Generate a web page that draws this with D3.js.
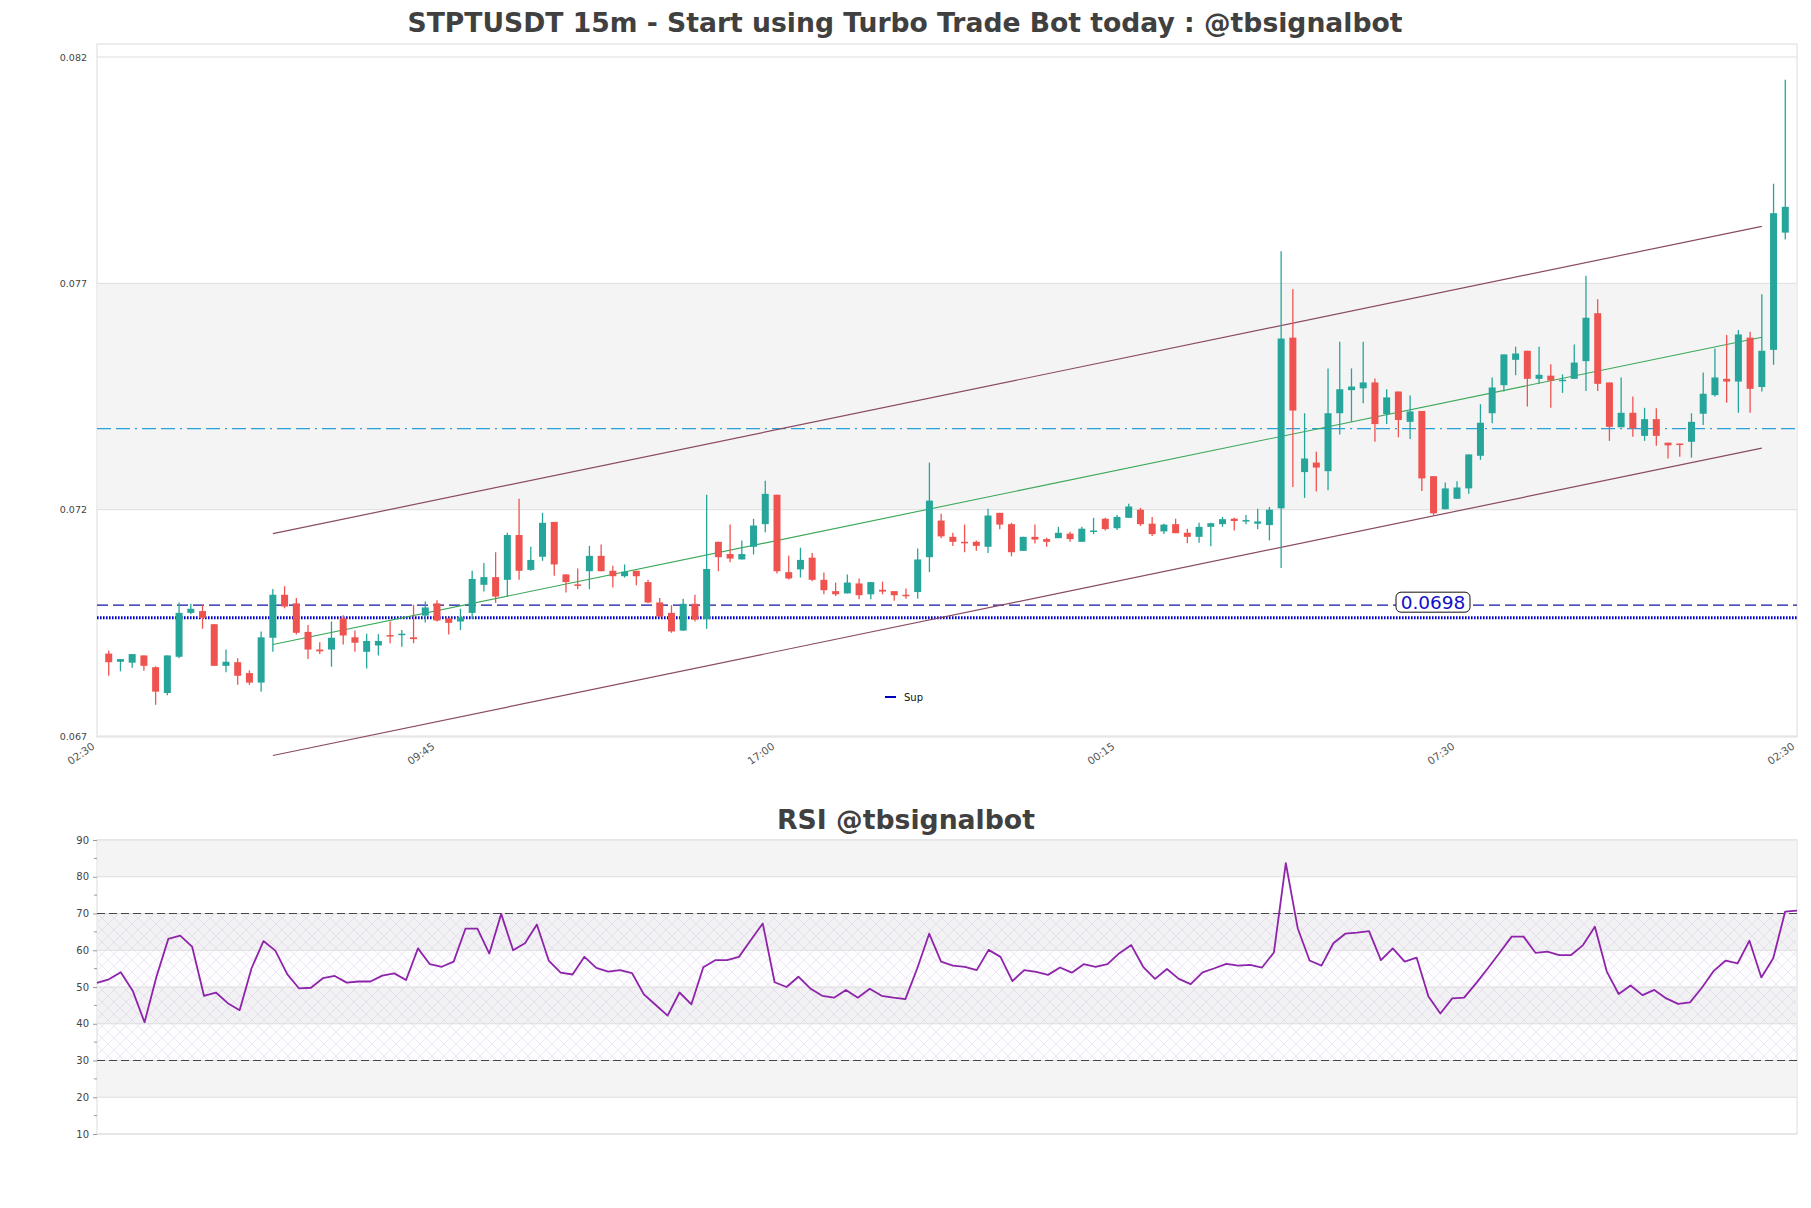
<!DOCTYPE html>
<html><head><meta charset="utf-8">
<script src="https://cdn.jsdelivr.net/npm/d3@7"></script>
<style>body{margin:0;background:#fff}svg{display:block}</style>
</head><body>
<script>
// ---------- DATA ----------
const title = "STPTUSDT 15m - Start using Turbo Trade Bot today : @tbsignalbot";
const rsiTitle = "RSI @tbsignalbot";
const xTickLabels = ["02:30","09:45","17:00","00:15","07:30","02:30"];
const xTickIdx = [-1, 28, 57, 86, 115, 144];
const yTicks = [0.082, 0.077, 0.072, 0.067];
const rsiTicks = [10,20,30,40,50,60,70,80,90];

const open = [0.06882,0.06864,0.06862,0.06878,0.06852,0.06795,0.06875,0.06972,0.06976,0.06947,
0.06855,0.06863,0.06839,0.06818,0.06917,0.07012,0.06993,0.06930,0.06891,0.06891,
0.06960,0.06918,0.06886,0.06900,0.06923,0.06924,0.06918,0.06966,0.06993,0.06960,
0.06953,0.06972,0.07034,0.07051,0.07045,0.07144,0.07067,0.07096,0.07173,0.07057,
0.07035,0.07064,0.07098,0.07065,0.07053,0.07065,0.07040,0.06995,0.06972,0.06933,
0.06992,0.06958,0.07129,0.07102,0.07090,0.07118,0.07168,0.07233,0.07062,0.07068,
0.07094,0.07045,0.07020,0.07015,0.07037,0.07013,0.07023,0.07020,0.07012,0.07018,
0.07095,0.07176,0.07140,0.07129,0.07129,0.07118,0.07193,0.07168,0.07109,0.07140,
0.07135,0.07137,0.07147,0.07129,0.07151,0.07180,0.07159,0.07182,0.07200,0.07169,
0.07152,0.07168,0.07149,0.07140,0.07162,0.07168,0.07180,0.07175,0.07169,0.07166,
0.07203,0.07580,0.07283,0.07304,0.07285,0.07413,0.07464,0.07468,0.07481,0.07411,
0.07461,0.07394,0.07418,0.07274,0.07201,0.07224,0.07247,0.07319,0.07413,0.07475,
0.07531,0.07551,0.07489,0.07496,0.07485,0.07489,0.07528,0.07634,0.07481,0.07382,
0.07414,0.07363,0.07400,0.07348,0.07346,0.07350,0.07412,0.07453,0.07489,0.07483,
0.07580,0.07471,0.07553,0.07812];
const high = [0.06889,0.06870,0.06881,0.06878,0.06854,0.06878,0.06995,0.06992,0.06989,0.06947,
0.06891,0.06872,0.06845,0.06931,0.07025,0.07031,0.07005,0.06945,0.06907,0.06953,
0.06967,0.06933,0.06926,0.06925,0.06953,0.06934,0.06990,0.06997,0.07000,0.06960,
0.06981,0.07065,0.07082,0.07106,0.07149,0.07224,0.07118,0.07193,0.07173,0.07057,
0.07070,0.07120,0.07123,0.07076,0.07079,0.07065,0.07045,0.07005,0.06989,0.07003,
0.07012,0.07233,0.07129,0.07167,0.07132,0.07180,0.07264,0.07233,0.07098,0.07116,
0.07104,0.07061,0.07039,0.07057,0.07048,0.07040,0.07041,0.07020,0.07026,0.07114,
0.07304,0.07191,0.07149,0.07167,0.07132,0.07202,0.07193,0.07171,0.07140,0.07167,
0.07138,0.07162,0.07151,0.07162,0.07182,0.07182,0.07188,0.07213,0.07204,0.07184,
0.07169,0.07180,0.07158,0.07171,0.07171,0.07184,0.07182,0.07188,0.07202,0.07206,
0.07771,0.07687,0.07413,0.07328,0.07512,0.07571,0.07512,0.07571,0.07490,0.07466,
0.07461,0.07452,0.07418,0.07274,0.07260,0.07263,0.07322,0.07433,0.07492,0.07543,
0.07560,0.07551,0.07560,0.07521,0.07499,0.07565,0.07717,0.07665,0.07481,0.07492,
0.07450,0.07425,0.07424,0.07348,0.07346,0.07413,0.07503,0.07556,0.07586,0.07597,
0.07593,0.07676,0.07920,0.08150];
const low = [0.06833,0.06843,0.06851,0.06844,0.06769,0.06790,0.06872,0.06969,0.06937,0.06855,
0.06841,0.06813,0.06813,0.06798,0.06886,0.06982,0.06924,0.06870,0.06881,0.06853,
0.06902,0.06886,0.06849,0.06878,0.06905,0.06897,0.06905,0.06951,0.06953,0.06924,
0.06934,0.06959,0.07019,0.06994,0.07009,0.07045,0.07065,0.07087,0.07054,0.07017,
0.07024,0.07024,0.07064,0.07028,0.07050,0.07033,0.06993,0.06961,0.06928,0.06932,
0.06953,0.06937,0.07064,0.07084,0.07090,0.07101,0.07150,0.07059,0.07046,0.07050,
0.07042,0.07013,0.07009,0.07015,0.07002,0.07002,0.07013,0.06999,0.07003,0.07003,
0.07062,0.07137,0.07120,0.07106,0.07109,0.07104,0.07157,0.07097,0.07109,0.07125,
0.07118,0.07137,0.07129,0.07129,0.07146,0.07154,0.07155,0.07182,0.07164,0.07142,
0.07146,0.07148,0.07126,0.07127,0.07119,0.07162,0.07154,0.07168,0.07157,0.07132,
0.07071,0.07250,0.07226,0.07240,0.07243,0.07366,0.07394,0.07435,0.07350,0.07389,
0.07360,0.07356,0.07241,0.07187,0.07201,0.07224,0.07235,0.07310,0.07391,0.07461,
0.07497,0.07428,0.07478,0.07425,0.07458,0.07489,0.07462,0.07462,0.07352,0.07382,
0.07361,0.07352,0.07341,0.07313,0.07317,0.07315,0.07387,0.07450,0.07436,0.07414,
0.07414,0.07461,0.07520,0.07797];
const close = [0.06863,0.06870,0.06881,0.06855,0.06798,0.06878,0.06972,0.06981,0.06961,0.06855,
0.06864,0.06833,0.06818,0.06918,0.07012,0.06986,0.06928,0.06891,0.06887,0.06917,
0.06922,0.06906,0.06910,0.06910,0.06921,0.06926,0.06914,0.06984,0.06955,0.06950,
0.06962,0.07047,0.07051,0.07008,0.07144,0.07065,0.07089,0.07171,0.07079,0.07040,
0.07034,0.07098,0.07064,0.07053,0.07063,0.07053,0.06995,0.06964,0.06931,0.06992,
0.06957,0.07069,0.07095,0.07092,0.07102,0.07165,0.07235,0.07064,0.07048,0.07089,
0.07045,0.07022,0.07013,0.07039,0.07011,0.07040,0.07019,0.07011,0.07009,0.07090,
0.07220,0.07141,0.07129,0.07126,0.07120,0.07187,0.07167,0.07106,0.07140,0.07134,
0.07129,0.07149,0.07135,0.07158,0.07154,0.07157,0.07184,0.07207,0.07168,0.07146,
0.07167,0.07148,0.07140,0.07162,0.07170,0.07179,0.07175,0.07177,0.07174,0.07200,
0.07578,0.07419,0.07313,0.07293,0.07413,0.07466,0.07472,0.07481,0.07389,0.07448,
0.07398,0.07417,0.07269,0.07192,0.07247,0.07249,0.07322,0.07392,0.07470,0.07543,
0.07545,0.07489,0.07498,0.07485,0.07487,0.07525,0.07624,0.07478,0.07383,0.07414,
0.07380,0.07400,0.07363,0.07342,0.07343,0.07394,0.07456,0.07492,0.07483,0.07587,
0.07467,0.07551,0.07855,0.07869];
const rsi = [51.1,52.1,54.0,49.0,40.4,52.8,63.1,64.0,61.0,47.6,48.5,45.6,43.7,55.1,62.5,59.9,53.5,49.6,
49.8,52.4,53.0,51.2,51.5,51.5,53.1,53.7,51.9,60.5,56.2,55.5,56.9,65.9,65.9,59.1,69.9,60.0,61.9,67.0,
57.2,53.9,53.4,58.2,55.2,54.2,54.6,53.8,48.0,45.1,42.2,48.5,45.3,55.4,57.3,57.3,58.2,62.8,67.3,51.3,
50.0,52.8,49.6,47.6,47.1,49.2,47.1,49.5,47.6,47.1,46.7,55.1,64.5,56.9,55.8,55.5,54.6,60.1,58.2,51.6,
54.6,54.1,53.3,55.3,53.9,56.2,55.5,56.2,59.2,61.4,55.5,52.2,54.9,52.2,50.8,54.0,55.1,56.3,55.8,56.0,
55.3,59.4,83.7,66.0,57.2,55.8,61.9,64.5,64.8,65.2,57.3,60.5,56.9,58.0,47.4,42.8,46.9,47.1,51.0,55.1,
59.4,63.7,63.7,59.3,59.6,58.7,58.7,61.4,66.4,54.2,48.1,50.4,47.8,49.2,46.9,45.4,45.8,49.8,54.4,57.2,
56.4,62.6,52.6,57.8,70.5,70.8];

// channel lines (index, value)
const channelIdx = [14, 141];
const channelUpper = [0.07147, 0.07826];
const channelMid = [0.06902, 0.07581];
const channelLower = [0.06657, 0.07336];
const supLevel = 0.06989;      // dashed blue "Sup"
const supLabel = "0.0698";
const dotLevel = 0.06961;      // dotted blue
const resLevel = 0.07379;      // cyan dash-dot
const bandMain = [0.072, 0.077];
const rsiBands = [[80,90],[60,70],[40,50],[20,30]];
const rsiOver = [30, 70];

// ---------- LAYOUT ----------
const W = 1811, H = 1208;
const M = {l:97, r:1797, t:44, b:737};
const R = {l:97, r:1797, t:840, b:1134};

const svg = d3.select("body").append("svg").attr("width", W).attr("height", H)
  .style("font-family", "'DejaVu Sans', sans-serif");
svg.append("rect").attr("width", W).attr("height", H).attr("fill", "#fff");

const x = d3.scaleLinear().domain([-1, 144]).range([M.l, M.r]);
const y = d3.scaleLinear().domain([0.066978, 0.082287]).range([M.b, M.t]);
const xr = d3.scaleLinear().domain([0, 143]).range([R.l, R.r]);
const yr = d3.scaleLinear().domain([10, 90]).range([R.b, R.t]);

// pattern
const defs = svg.append("defs");
const pat = defs.append("pattern").attr("id","hatch").attr("patternUnits","userSpaceOnUse")
  .attr("width", 12).attr("height", 12);
pat.append("path").attr("d","M0,0L12,12M12,0L0,12M-3,9L3,15M9,-3L15,3M-3,3L3,-3M9,15L15,9")
  .attr("stroke","rgba(185,160,205,0.38)").attr("stroke-width",0.6).attr("fill","none");

// ---------- TITLE ----------
function fitText(sel, targetW, basePx){
  const n = sel.node(); const w = n.getComputedTextLength();
  sel.attr("font-size", basePx * targetW / w);
}
const t1 = svg.append("text").attr("x", 905).attr("y", 32).attr("text-anchor","middle")
  .attr("font-weight","bold").attr("fill","#404040").attr("font-size",26).text(title);
fitText(t1, 995, 26);

// ---------- MAIN PLOT ----------
const gm = svg.append("g");
gm.append("rect").attr("x", M.l).attr("y", M.t).attr("width", M.r-M.l).attr("height", M.b-M.t)
  .attr("fill","#fff").attr("stroke","#dcdcdc");
gm.append("rect").attr("x", M.l+0.5).attr("y", y(bandMain[1])).attr("width", M.r-M.l-1)
  .attr("height", y(bandMain[0]) - y(bandMain[1])).attr("fill","#f4f4f4");
gm.selectAll("line.grid").data(yTicks).join("line").attr("class","grid")
  .attr("x1", M.l).attr("x2", M.r).attr("y1", d=>y(d)).attr("y2", d=>y(d))
  .attr("stroke","#dedede").attr("stroke-width",1);

const yAxis = gm.append("g").attr("transform",`translate(${M.l},0)`)
  .call(d3.axisLeft(y).tickValues(yTicks).tickFormat(d3.format(".3f")).tickSize(0).tickPadding(10));
yAxis.select(".domain").remove();
yAxis.selectAll("text").attr("font-size",9.5).attr("fill","#444").attr("font-family","'DejaVu Sans', sans-serif");

const xAxis = gm.append("g").attr("transform",`translate(0,${M.b})`)
  .call(d3.axisBottom(x).tickValues(xTickIdx).tickFormat((d,i)=>xTickLabels[i]).tickSize(0));
xAxis.select(".domain").remove();
xAxis.selectAll("text").attr("font-size",10.5).attr("fill","#555").attr("font-family","'DejaVu Sans', sans-serif")
  .attr("text-anchor","end").attr("dy",null).attr("y",0)
  .attr("transform","translate(-2,11) rotate(-35)");

// horizontal levels
gm.append("line").attr("x1",M.l).attr("x2",M.r).attr("y1",y(resLevel)).attr("y2",y(resLevel))
  .attr("stroke","#2a9fd8").attr("stroke-width",1.2).attr("stroke-dasharray","14,5,14,5,2,5");
gm.append("line").attr("x1",M.l).attr("x2",M.r).attr("y1",y(supLevel)).attr("y2",y(supLevel))
  .attr("stroke","#1414a0").attr("stroke-width",1.3).attr("stroke-dasharray","11,5");
gm.append("line").attr("x1",M.l).attr("x2",M.r).attr("y1",y(dotLevel)).attr("y2",y(dotLevel))
  .attr("stroke","#0000cc").attr("stroke-width",3).attr("stroke-dasharray","1.6,1.4");

// channel lines
const chLine = (vals)=> d3.line().x(d=>x(d[0])).y(d=>y(d[1]))(channelIdx.map((c,i)=>[c, vals[i]]));
gm.append("path").attr("d", chLine(channelUpper)).attr("stroke","#8a4a66").attr("stroke-width",1.2).attr("fill","none");
gm.append("path").attr("d", chLine(channelLower)).attr("stroke","#8a4a66").attr("stroke-width",1.2).attr("fill","none");
gm.append("path").attr("d", chLine(channelMid)).attr("stroke","#3aa858").attr("stroke-width",1.1).attr("fill","none");

// candles
const candles = d3.range(open.length).map(i=>({i, o:open[i], h:high[i], l:low[i], c:close[i]}));
const up = "#26a69a", dn = "#ef5350";
const cg = gm.append("g");
cg.selectAll("line.wick").data(candles).join("line").attr("class","wick")
  .attr("x1", d=>x(d.i)).attr("x2", d=>x(d.i)).attr("y1", d=>y(d.h)).attr("y2", d=>y(d.l))
  .attr("stroke", d=> d.c>=d.o?up:dn).attr("stroke-width",1.3);
const bw = 7;
cg.selectAll("rect.body").data(candles).join("rect").attr("class","body")
  .attr("x", d=>x(d.i)-bw/2).attr("width", bw)
  .attr("y", d=>y(Math.max(d.o,d.c)))
  .attr("height", d=>Math.max(1.5, Math.abs(y(d.o)-y(d.c))))
  .attr("fill", d=> d.c>=d.o?up:dn);

// sup label box
const lx = 1433, ly = y(supLevel) - 3;
gm.append("rect").attr("x", lx-37).attr("y", ly-10).attr("width", 74).attr("height", 20).attr("rx",5)
  .attr("fill","#fff").attr("stroke","#111").attr("stroke-width",1);
gm.append("text").attr("x", lx).attr("y", ly+6.5).attr("text-anchor","middle").attr("font-size",18.5)
  .attr("fill","#1010c8").text(supLabel);

// legend
gm.append("line").attr("x1",885).attr("x2",896).attr("y1",697).attr("y2",697).attr("stroke","#0000c0").attr("stroke-width",2);
gm.append("text").attr("x",904).attr("y",700.5).attr("font-size",10).attr("fill","#111").text("Sup");

// ---------- RSI ----------
const t2 = svg.append("text").attr("x", 906).attr("y", 829).attr("text-anchor","middle")
  .attr("font-weight","bold").attr("fill","#404040").attr("font-size",26).text(rsiTitle);
fitText(t2, 258, 26);

const gr = svg.append("g");
gr.append("rect").attr("x",R.l).attr("y",R.t).attr("width",R.r-R.l).attr("height",R.b-R.t)
  .attr("fill","#fff").attr("stroke","#dcdcdc");
gr.selectAll("rect.band").data(rsiBands).join("rect").attr("class","band")
  .attr("x",R.l+0.5).attr("width",R.r-R.l-1).attr("y",d=>yr(d[1])).attr("height",d=>yr(d[0])-yr(d[1]))
  .attr("fill","#f4f4f4");
gr.append("rect").attr("x",R.l+0.5).attr("width",R.r-R.l-1).attr("y",yr(rsiOver[1])).attr("height",yr(rsiOver[0])-yr(rsiOver[1]))
  .attr("fill","rgba(200,170,225,0.035)");
gr.append("rect").attr("x",R.l+0.5).attr("width",R.r-R.l-1).attr("y",yr(rsiOver[1])).attr("height",yr(rsiOver[0])-yr(rsiOver[1]))
  .attr("fill","url(#hatch)");
gr.selectAll("line.grid").data(rsiTicks).join("line").attr("class","grid")
  .attr("x1",R.l).attr("x2",R.r).attr("y1",d=>yr(d)).attr("y2",d=>yr(d)).attr("stroke","#dedede");
gr.selectAll("line.ob").data(rsiOver).join("line").attr("class","ob")
  .attr("x1",R.l).attr("x2",R.r).attr("y1",d=>yr(d)).attr("y2",d=>yr(d))
  .attr("stroke","#444").attr("stroke-width",1.2).attr("stroke-dasharray","8,4");

const ra = gr.append("g").attr("transform",`translate(${R.l},0)`)
  .call(d3.axisLeft(yr).tickValues(rsiTicks).tickSize(4).tickPadding(4));
ra.select(".domain").remove();
ra.selectAll("line").attr("stroke","#999");
ra.selectAll("text").attr("font-size",10).attr("fill","#444").attr("font-family","'DejaVu Sans', sans-serif");
const minor = d3.range(15, 90, 10);
gr.selectAll("line.minor").data(minor).join("line").attr("class","minor")
  .attr("x1",R.l-3).attr("x2",R.l).attr("y1",d=>yr(d)).attr("y2",d=>yr(d)).attr("stroke","#999");

gr.append("path").datum(rsi).attr("fill","none").attr("stroke","#8e24aa").attr("stroke-width",1.8)
  .attr("stroke-linejoin","round")
  .attr("d", d3.line().x((d,i)=>xr(i)).y(d=>yr(d)));
</script>
</body></html>
